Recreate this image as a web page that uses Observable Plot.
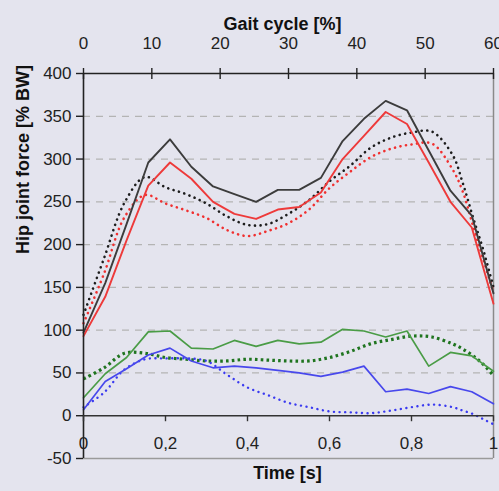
<!DOCTYPE html>
<html><head><meta charset="utf-8">
<script src="https://cdn.jsdelivr.net/npm/d3@7"></script>
<script src="https://cdn.jsdelivr.net/npm/@observablehq/plot@0.6"></script>
<style>
html,body{margin:0;padding:0;background:#e4e4ee;overflow:hidden;}
#chart svg{display:block;}
</style></head><body><div id="chart"></div>
<script>
// Solid lines (sampled in time)
const tSolid = [0,0.053,0.105,0.158,0.211,0.263,0.316,0.368,0.421,0.474,0.526,0.579,0.632,0.684,0.737,0.789,0.842,0.895,0.947,1];
const blackSolid = [97,155,224,296,323,291,268,259,250,264,264,278,321,347,368,357,310,263,234,143];
const redSolid   = [93,139,205,269,296,277,250,236,230,241,244,261,300,327,355,341,296,250,220,131];
const greenSolid = [21,49,68,98,99,79,78,88,81,88,84,86,101,99,92,99,58,74,70,52];
const blueSolid  = [7,40,55,71,79,64,56,58,56,53,50,46,51,58,28,31,26,34,28,14];

// Dotted lines (smooth curves)
const tDot = [0,0.05,0.1,0.15,0.2,0.25,0.3,0.35,0.4,0.45,0.5,0.55,0.6,0.65,0.7,0.75,0.8,0.85,0.9,0.925,0.95,0.975,1];
const blackDot = [118,184,249,279,267,259,248,233,223,224,236,252,274,292,313,325,331,332,305,272,232,194,150];
const redDot   = [108,166,232,258,248,240,231,217,210,216,225,241,266,285,302,312,317,318,288,262,222,183,144];
const greenDot = [43,56,73,73,68,66,64,64,66,65,64,64,68,75,84,89,93,92,84,78,70,60,47];
const blueDot  = [10,27,54,66,67,67,64,48,33,24,15,10,5,4,3,6,10,13,10,6,2,-4,-10];

const yTicks = [-50,0,50,100,150,200,250,300,350,400];
const gridValues = [50,100,150,200,250,300,350];
const xTicks = [0,0.2,0.4,0.6,0.8,1];
const xTickLabels = ["0","0,2","0,4","0,6","0,8","1"];
const gaitTicks = [0,10,20,30,40,50,60];
const gaitMax = 60;

const toRows = (ts, vs) => ts.map((t, i) => ({t, v: vs[i]}));

const solidStyle = [
  {data: blackSolid, stroke: "#3c3c3c", w: 1.9},
  {data: redSolid, stroke: "#ee3a3a", w: 1.9},
  {data: greenSolid, stroke: "#4a9c46", w: 1.7},
  {data: blueSolid, stroke: "#4848ec", w: 1.7}
];
const dotStyle = [
  {data: blackDot, stroke: "#1c1c1c", w: 2.6, dash: "0.1,5.5", cap: "round"},
  {data: redDot, stroke: "#f03030", w: 2.6, dash: "0.1,5.5", cap: "round"},
  {data: greenDot, stroke: "#1f741f", w: 3.2, dash: "2.6,3.2", cap: "butt"},
  {data: blueDot, stroke: "#3a3af0", w: 2.4, dash: "0.1,5.5", cap: "round"}
];

const font = "'Liberation Sans', Arial, sans-serif";

const chart = Plot.plot({
  width: 499,
  height: 491,
  marginLeft: 83,
  marginRight: 6,
  marginTop: 73,
  marginBottom: 33,
  style: {background: "#e4e4ee", fontFamily: font, fontSize: "17px", color: "#222", overflow: "visible"},
  x: {domain: [0, 1], axis: null},
  y: {domain: [-50, 400], axis: null},
  marks: [
    Plot.ruleY(gridValues, {stroke: "#b4b4b4", strokeDasharray: "7,6", strokeWidth: 1.2}),
    Plot.ruleY([-50], {stroke: "#9a9a9a", strokeWidth: 1.5}),
    Plot.ruleX([1], {stroke: "#8a8a8a", strokeWidth: 1.5}),
    ...dotStyle.map(s => Plot.line(toRows(tDot, s.data), {x: "t", y: "v", curve: "catmull-rom", stroke: s.stroke, strokeWidth: s.w, strokeDasharray: s.dash, strokeLinecap: s.cap})),
    ...solidStyle.map(s => Plot.line(toRows(tSolid, s.data), {x: "t", y: "v", stroke: s.stroke, strokeWidth: s.w})),
    Plot.ruleY([0], {stroke: "#333", strokeWidth: 1.6}),
    Plot.ruleY([400], {stroke: "#222", strokeWidth: 1.6}),
    Plot.ruleX([0], {y1: -50, y2: 400, stroke: "#222", strokeWidth: 1.6}),
    // bottom ticks on zero line
    Plot.ruleX(xTicks, {x: d => d, y1: 0, y2: 0, insetBottom: -6, stroke: "#333", strokeWidth: 1.4}),
    Plot.text(xTicks, {x: d => d, y: 0, dy: 28, text: (d, i) => xTickLabels[i], fill: "#222"}),
    // top gait axis
    Plot.ruleX(gaitTicks, {x: d => d / gaitMax, y1: 400, y2: 400, insetTop: -5, insetBottom: -6, stroke: "#222", strokeWidth: 1.4}),
    Plot.text(gaitTicks, {x: d => d / gaitMax, y: 400, dy: -30, text: d => String(d), fill: "#222"}),
    // left axis
    Plot.axisY(yTicks, {anchor: "left", tickSize: 7, tickPadding: 5, label: null, stroke: "#222", strokeWidth: 1.4, tickFormat: d => String(d)}),
    // titles
    Plot.text(["Gait cycle [%]"], {frameAnchor: "top", dy: -56, dx: -6, fontWeight: "bold", fontSize: 18, fill: "#111"}),
    Plot.text(["Time [s]"], {frameAnchor: "bottom", dy: 20, dx: -1, fontWeight: "bold", fontSize: 18, fill: "#111"}),
    Plot.text(["Hip joint force [% BW]"], {frameAnchor: "left", dx: -60, dy: -12, rotate: -90, fontWeight: "bold", fontSize: 18, fill: "#111"})
  ]
});
document.getElementById("chart").appendChild(chart);
</script>
</body></html>
